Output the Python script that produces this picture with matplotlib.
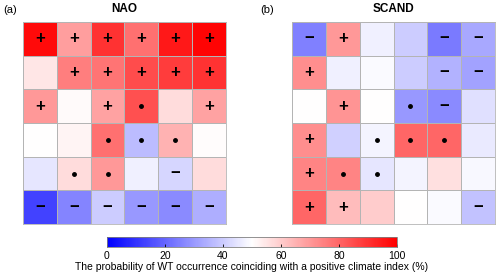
import numpy as np
import matplotlib
matplotlib.use("Agg")
import matplotlib.pyplot as plt

plt.rcParams['font.family'] = ['Liberation Sans', 'DejaVu Sans']

# probability (%) per weather type, 6x6 grid, top row first
nao_vals = [
    [98, 69, 90, 78, 95, 99],
    [55, 75, 77, 85, 88, 90],
    [70, 51, 68, 84, 57, 68],
    [50, 52, 78, 37, 65, 50.5],
    [45, 57, 70, 47, 42, 57],
    [13, 26, 40, 30, 27, 34],
]
nao_marks = [
    ["+", "+", "+", "+", "+", "+"],
    ["", "+", "+", "+", "+", "+"],
    ["+", "", "+", ".", "", "+"],
    ["", "", ".", ".", ".", ""],
    ["", ".", ".", "", "-", ""],
    ["-", "-", "-", "-", "-", "-"],
]
scand_vals = [
    [25, 70, 47, 40, 24, 33],
    [72, 47, 49, 40, 35, 32],
    [50, 71, 50, 30, 27, 44],
    [72, 41, 48, 80, 80, 46],
    [74, 74, 45, 48, 56, 48.5],
    [80, 63, 60, 50, 49, 38],
]
scand_marks = [
    ["-", "+", "", "", "-", "-"],
    ["+", "", "", "", "-", "-"],
    ["", "+", "", ".", "-", ""],
    ["+", "", ".", ".", ".", ""],
    ["+", ".", ".", "", "", ""],
    ["+", "+", "", "", "", "-"],
]

fig = plt.figure(figsize=(5, 2.78), dpi=100)
ax1 = fig.add_axes([0.046, 0.194, 0.406, 0.727])
ax2 = fig.add_axes([0.584, 0.194, 0.406, 0.727])


def draw(ax, vals, marks, title):
    v = np.array(vals)
    m = ax.pcolormesh(v, cmap="bwr", vmin=0, vmax=100, edgecolors="#b4b4b4", linewidth=0.6)
    ax.set_xlim(0, 6)
    ax.set_ylim(6, 0)
    for i in range(6):
        for j in range(6):
            s = marks[i][j]
            if s == "+":
                ax.text(j + 0.5, i + 0.5, "+", ha="center", va="center", fontsize=12, fontweight="bold")
            elif s == "-":
                ax.text(j + 0.5, i + 0.5, "\u2212", ha="center", va="center", fontsize=12, fontweight="bold")
            elif s == ".":
                ax.plot(j + 0.5, i + 0.5, "o", color="k", ms=2.5)
    ax.set_xticks([])
    ax.set_yticks([])
    for sp in ax.spines.values():
        sp.set_color("#b4b4b4")
        sp.set_linewidth(0.6)
    ax.set_title(title, fontsize=8.5, fontweight="bold", pad=7)
    return m


mesh = draw(ax1, nao_vals, nao_marks, "NAO")
draw(ax2, scand_vals, scand_marks, "SCAND")
fig.text(0.006, 0.965, "(a)", fontsize=8, va="center")
fig.text(0.52, 0.965, "(b)", fontsize=8, va="center")

cax = fig.add_axes([0.214, 0.112, 0.58, 0.036])
cb = fig.colorbar(mesh, cax=cax, orientation="horizontal", ticks=[0, 20, 40, 60, 80, 100])
cb.outline.set_edgecolor("#808080")
cb.outline.set_linewidth(0.6)
cb.ax.tick_params(labelsize=7.5, length=2, direction="in", pad=3, width=0.6)
cb.set_label("The probability of WT occurrence coinciding with a positive climate index (%)", fontsize=7.5, labelpad=1)

fig.savefig("out.png", dpi=100)
